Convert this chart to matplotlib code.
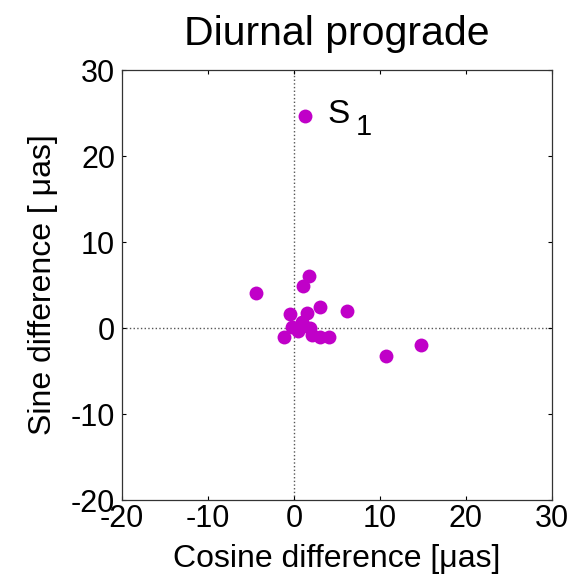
import matplotlib.pyplot as plt

plt.rcParams['font.family'] = ['Liberation Sans', 'DejaVu Sans']
plt.rcParams['axes.unicode_minus'] = False

# cosine / sine differences of the diurnal prograde terms [uas]
cos_diff = [1.3, -4.4, 1.7, 1.05, 3.0, 6.2, -0.45, 1.55, -1.2, 10.7, 14.8,
            -0.25, 0.9, 1.85, 2.05, 3.0, 4.1, 0.5]
sin_diff = [24.7, 4.1, 6.0, 4.9, 2.4, 2.0, 1.6, 1.8, -1.1, -3.3, -2.0,
            0.15, 0.7, 0.0, -0.8, -1.0, -1.1, -0.4]
s1_idx = 0

fig = plt.figure(figsize=(5.73, 5.81), dpi=100)
ax = fig.add_axes([0.2129, 0.1394, 0.7504, 0.7401])

ax.axhline(0, color='#555555', linestyle=':', linewidth=1.0, zorder=1)
ax.axvline(0, color='#555555', linestyle=':', linewidth=1.0, zorder=1)
ax.plot(cos_diff, sin_diff, 'o', color='#c000c8', markersize=10,
        markeredgewidth=0, zorder=3)

# label the S1 term
ax.annotate('S', (cos_diff[s1_idx], sin_diff[s1_idx]), xytext=(16, -5.3),
            textcoords='offset points', fontsize=24, va='baseline', ha='left')
ax.annotate('1', (cos_diff[s1_idx], sin_diff[s1_idx]), xytext=(36.5, -13.9),
            textcoords='offset points', fontsize=21, va='baseline', ha='left')

ax.set_xlim(-20, 30)
ax.set_ylim(-20, 30)
ax.set_xticks(range(-20, 31, 10))
ax.set_yticks(range(-20, 31, 10))
ax.tick_params(direction='in', length=3, width=0.8, top=True, right=True,
               labelsize=22)
ax.tick_params(axis='x', pad=3)
ax.tick_params(axis='y', pad=5)
for s in ax.spines.values():
    s.set_linewidth(0.9)
    s.set_color('#333333')

ax.set_title('Diurnal prograde', fontsize=29.5, pad=18)
ax.set_xlabel('Cosine difference [\u03bcas]', fontsize=23, labelpad=7)
ax.set_ylabel('Sine difference [ \u03bcas]', fontsize=23, labelpad=9)

fig.savefig('out.png', dpi=100)
